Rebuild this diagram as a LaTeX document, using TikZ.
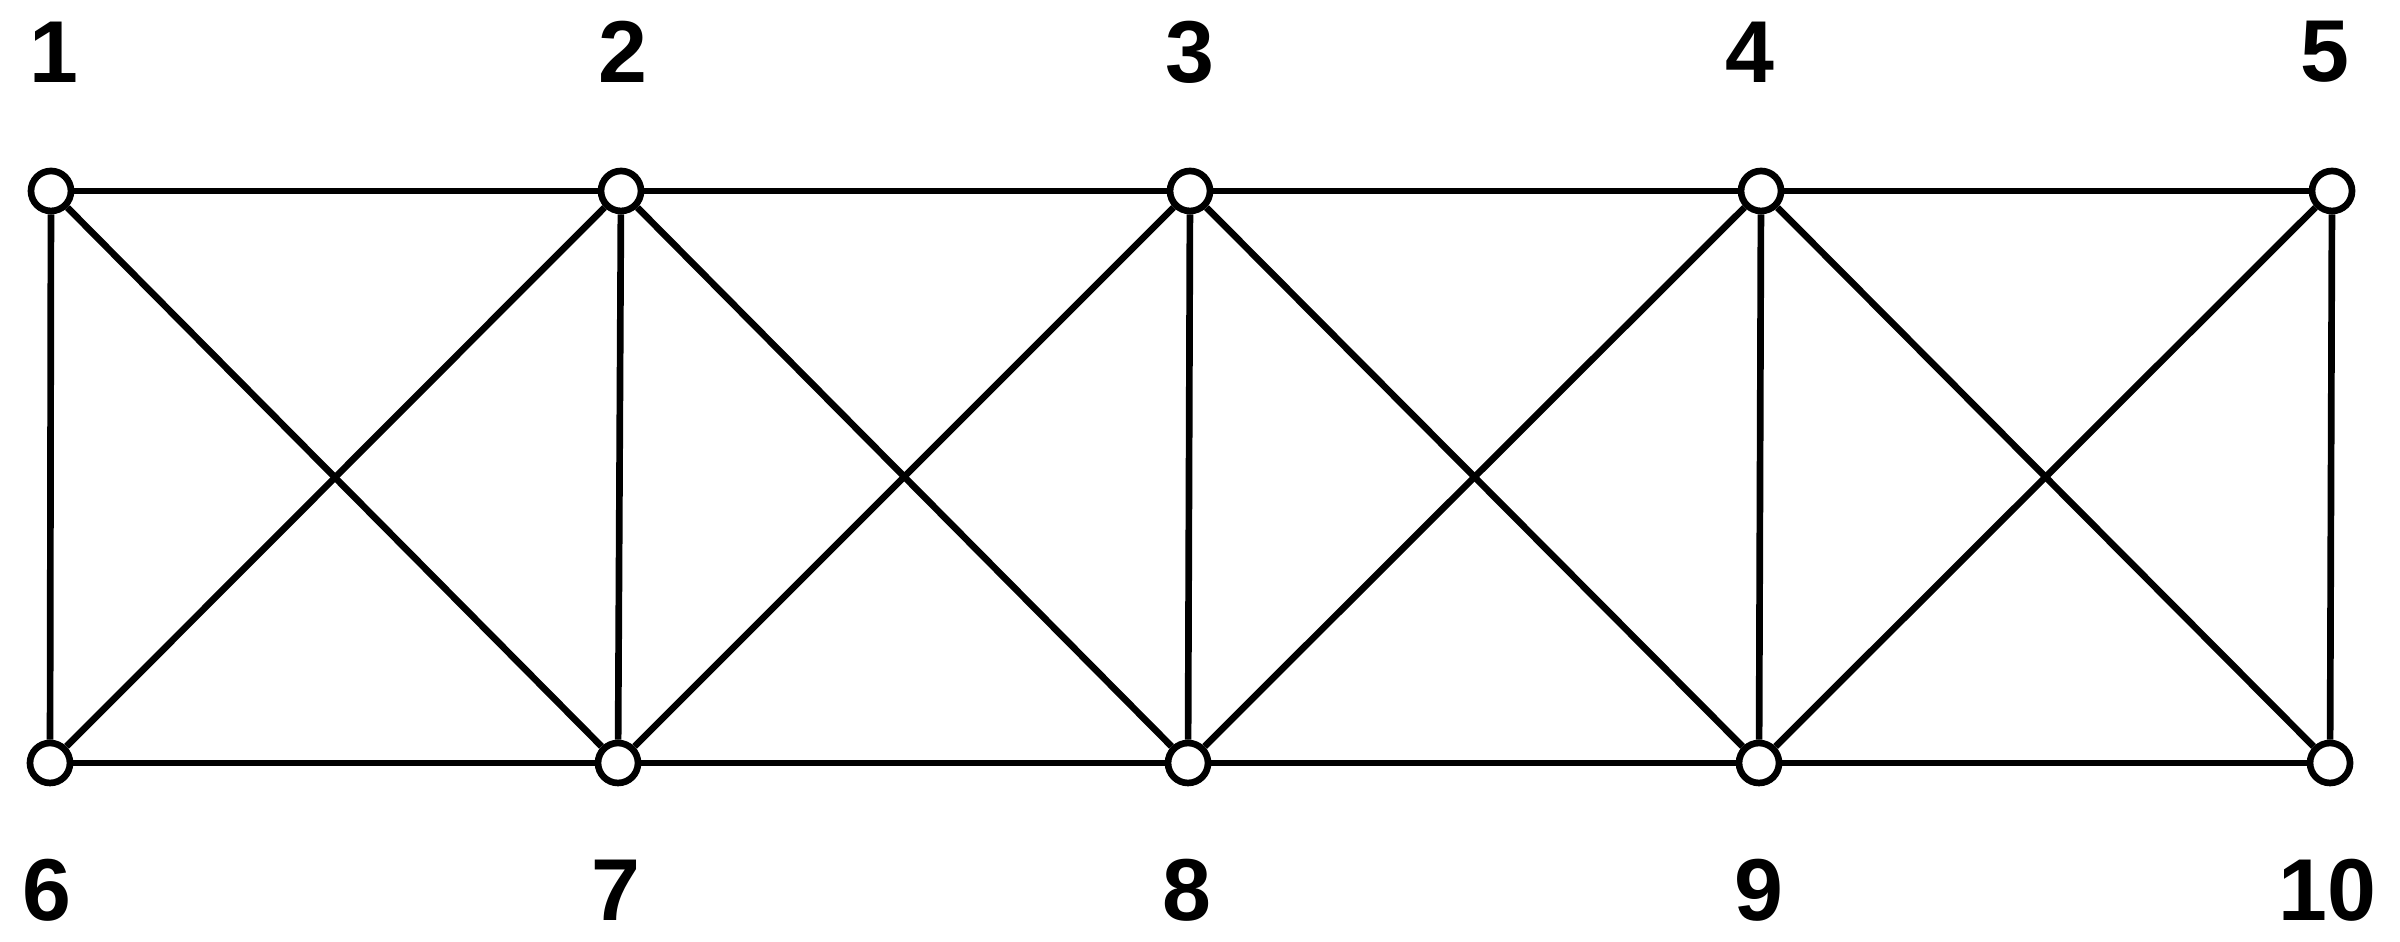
\documentclass[tikz,border=0pt]{standalone}
\usepackage{fontspec}
\setmainfont{Liberation Sans}
\usepackage{tikz}

\begin{document}
\begin{tikzpicture}[
  joint/.style={circle, draw, fill=white, line width=1.9pt, minimum size=.4cm, inner sep=0pt},
  num/.style={font=\bfseries\fontsize{25}{30}\selectfont, inner sep=0pt},
  bar/.style={line width=1.9pt}]
\useasboundingbox (0,0) rectangle (24,9.42);
\node[joint] (n1) at (0.51,7.51) {};
\node[joint] (n2) at (6.21,7.51) {};
\node[joint] (n3) at (11.90,7.51) {};
\node[joint] (n4) at (17.61,7.51) {};
\node[joint] (n5) at (23.32,7.51) {};
\node[joint] (n6) at (0.50,1.79) {};
\node[joint] (n7) at (6.18,1.79) {};
\node[joint] (n8) at (11.88,1.79) {};
\node[joint] (n9) at (17.59,1.79) {};
\node[joint] (n10) at (23.30,1.79) {};
\node[num] (l1) at (0.54,8.90) {1};
\node[num] (l2) at (6.23,8.90) {2};
\node[num] (l3) at (11.90,8.90) {3};
\node[num] (l4) at (17.50,8.90) {4};
\node[num] (l5) at (23.25,8.90) {5};
\node[num] (l6) at (0.47,0.52) {6};
\node[num] (l7) at (6.16,0.52) {7};
\node[num] (l8) at (11.87,0.52) {8};
\node[num] (l9) at (17.59,0.52) {9};
\node[num] (l10) at (23.27,0.52) {10};
% chords
\draw[bar] (n1) -- (n2) -- (n3) -- (n4) -- (n5);
\draw[bar] (n6) -- (n7) -- (n8) -- (n9) -- (n10);
% posts
\draw[bar] (n1) -- (n6);
\draw[bar] (n2) -- (n7);
\draw[bar] (n3) -- (n8);
\draw[bar] (n4) -- (n9);
\draw[bar] (n5) -- (n10);
% diagonals
\draw[bar] (n1) -- (n7);
\draw[bar] (n2) -- (n6);
\draw[bar] (n2) -- (n8);
\draw[bar] (n3) -- (n7);
\draw[bar] (n3) -- (n9);
\draw[bar] (n4) -- (n8);
\draw[bar] (n4) -- (n10);
\draw[bar] (n5) -- (n9);
\end{tikzpicture}
\end{document}
